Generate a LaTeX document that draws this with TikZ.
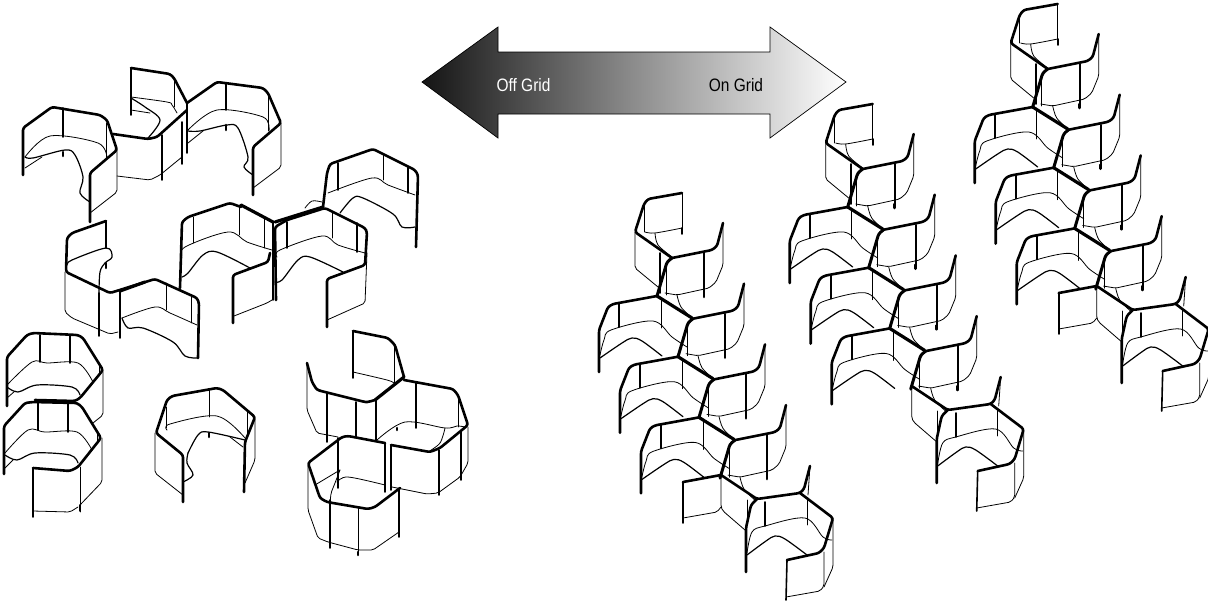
\documentclass[tikz,border=0pt]{standalone}
\usepackage{fontspec}
\setmainfont{Liberation Sans}
\tikzset{
  base/.style={line join=round,line cap=round,black},
  wallA/.style={base,line width=2.6pt,rounded corners=2.5pt},
  wallB/.style={base,line width=1.6pt},
  wallC/.style={base,line width=0.8pt,rounded corners=2pt},
  wallD/.style={base,line width=3.2pt},
  curveA/.style={base,line width=0.8pt},
  curveB/.style={base,line width=1.2pt},
  lab/.style={inner sep=0pt,font=\fontsize{18}{18}\selectfont}
}
\newcommand\cvA[1]{\draw[curveA] plot[smooth,tension=.55] coordinates {#1};}
\newcommand\cvB[1]{\draw[curveB] plot[smooth,tension=.55] coordinates {#1};}
\newcommand\chainunit[3]{%
\begin{scope}[shift={(#1,#2)}]
  % top module
  \draw[wallA] (682,193)--(648,199)--(644,204)--(635,232)--(672,258);
  \draw[wallC] (682,193)--(682,232);
  \draw[wallB] (682,228)--(682,234);
  \draw[wallC] (644,205)--(644,232);
  \cvA{(645,232)(655,233)(682,228)}
  \cvA{(655,233)(658,245)(672,257)}
  \draw[wallC] (635,232)--(635,268)--(658,287);
  \draw[wallB] (660,253)--(660,293);
  % arms and connectors
  \foreach \k in {0,1,2,3}{
    \begin{scope}[shift={({\k*21},{\k*60.7})}]
      \draw[wallA] (672,258)--(712,250)--(717,246)--(723,223);
      \draw[wallA,line width=3pt] (672,258)--(667,262)--(657,296);
      \draw[wallC] (666,267)--(666,295);
      \draw[wallC] (723,223)--(723,265)--(716,282)--(709,288)--(677,295)--(665,293);
      \draw[wallB] (704,253)--(704,293);
      \draw[wallA] (704,293)--(704,297);
      \cvA{(677,295)(681,307)(692,318)}
    \end{scope}
  }
  % rear units
  \foreach \k in {0,1,2}{
    \begin{scope}[shift={({\k*21},{\k*60.7})}]
      \draw[wallA] (599,372)--(599,330)--(608,307)--(613,304)--(657,296);
      \draw[wallD] (657,296)--(692,318);
      \draw[wallB] (619,303)--(619,327);
      \draw[wallC] (661,298)--(661,328);
      \cvA{(600,355)(604,340)(611,330)(653,321)(672,337)(687,347)}
      \cvB{(600,358)(622,343)(632,338)(642,341)(662,356)}
    \end{scope}
  }
  % last module
  \draw[wallC] (721,475)--(721,507)--(723,511)--(745,530);
  \ifnum#3=1
    \draw[wallA,rounded corners=0pt] (721,475)--(683,482);
    \draw[wallB] (683,482)--(683,523);
    \draw[wallC] (683,518)--(717,512)--(721,507);
  \fi
  \draw[wallA] (721,475)--(757,499)--(800,493)--(804,489)--(810,466);
  \draw[wallC] (810,466)--(808,495);
  \draw[wallA] (800,493)--(833,518)--(824,548)--(819,553)--(787,560);
  \draw[wallB] (787,560)--(786,600);
  \draw[wallC] (786,597)--(820,591)--(824,586)--(824,552);
  \draw[wallC] (833,518)--(833,567)--(824,587);
  \draw[wallA] (757,499)--(751,505)--(746,528)--(746,572);
  \draw[wallB] (765,502)--(765,526);
  \draw[wallC] (807,498)--(807,525);
  \draw[wallC] (747,500)--(747,525);
  \cvA{(747,553)(752,532)(765,526)(805,518)(823,537)(832,540)}
  \cvB{(747,555)(766,541)(775,536)(785,539)(807,555)}
\end{scope}}
\begin{document}
\begin{tikzpicture}[x=1pt,y=-1pt]
\useasboundingbox (0,0) rectangle (1208,603);
% ---- double arrow
\path[draw=black,line width=.7pt,left color=black!92,right color=white,middle color=black!45]
  (422,82)--(498,27)--(498,52)--(770,52)--(770,27)--(846,82)--(770,138)--(770,114)--(498,114)--(498,138)--cycle;
\node[lab,text=white,anchor=center] (offgrid) at (523.5,85) {\scalebox{.86}[1]{Off Grid}};
\node[lab,text=black,anchor=center] (ongrid) at (736,85) {\scalebox{.86}[1]{On Grid}};
% ---- on grid chains
\chainunit{0}{0}{1}
\chainunit{190.7}{-89}{0}
\chainunit{375.7}{-189}{1}
% ---- cube A
\draw[wallA] (23,175)--(23,128)--(52,107)--(100,115)--(107,120)--(117,150)--(90,173)--(90,222);
\draw[wallB] (63,108)--(63,137);
\draw[wallA] (63,152)--(63,156);
\draw[wallC] (106,123)--(106,158);
\cvA{(25,157)(50,136)(98,143)(107,158)}
\cvB{(25,157)(33,158)(65,150)(75,155)(83,177)(80,193)(90,202)}
\draw[wallC] (25,168)--(42,157);
\draw[wallC] (117,150)--(117,192)--(90,213);
% ---- cube B
\draw[wallA] (113,134)--(148,139)--(157,137)--(187,110);
\draw[wallA] (131,68)--(170,74)--(174,78)--(187,103);
\draw[wallB] (131,68)--(131,115);
\draw[wallC] (174,80)--(174,107);
\cvA{(131,97)(167,102)(172,105)(177,113)}
\cvB{(131,98)(145,107)(160,120)(148,138)}
\draw[wallC] (131,110)--(150,113);
\draw[wallB] (162,135)--(162,180);
\draw[wallB] (182,122)--(182,164);
\draw[wallB] (187,103)--(187,153);
\draw[wallC] (117,176)--(150,180)--(160,175)--(182,157);
% ---- cube C
\draw[wallA] (187,103)--(217,82)--(263,88)--(268,93)--(281,123)--(253,147)--(253,195);
\draw[wallB] (226,83)--(226,110);
\draw[wallA] (226,125)--(226,130);
\draw[wallC] (268,95)--(268,131);
\cvA{(188,130)(217,110)(263,117)(269,131)}
\cvB{(188,131)(200,131)(227,125)(238,128)(248,157)(244,167)(253,175)}
\draw[wallC] (188,143)--(203,131);
\draw[wallC] (281,123)--(281,167)--(253,188);
% ---- cube D
\draw[wallA] (106,221)--(72,233)--(67,238)--(66,272)--(110,293)--(155,279)--(197,298)--(199,303)--(198,358);
\draw[wallD] (120,291)--(145,282);
\draw[wallB] (106,221)--(106,248);
\cvB{(67,265)(72,260)(106,248)(112,257)(105,263)(100,272)(99,293)}
\draw[wallA] (106,263)--(106,268);
\draw[wallB] (99,293)--(99,336);
\draw[wallB] (120,292)--(120,338);
\draw[wallC] (65,272)--(65,312)--(72,318)--(110,334)--(118,332);
\draw[wallC] (166,283)--(166,310);
\draw[wallC] (191,297)--(191,323);
\cvA{(122,318)(155,307)(170,313)(197,325)}
\cvB{(122,318)(128,328)(143,328)(173,342)(185,356)(198,358)}
% ---- cube E
\draw[wallA] (180,288)--(182,222)--(188,217)--(230,203)--(241,207);
\draw[wallD] (241,205)--(273,222);
\draw[wallC] (193,217)--(193,243);
\draw[wallC] (239,207)--(239,235);
\draw[wallC] (264,219)--(264,248);
\cvA{(182,258)(185,247)(228,232)(247,242)(272,250)}
\cvB{(182,277)(188,273)(203,255)(217,252)(250,268)}
\draw[wallA] (270,253)--(268,262)--(233,275)--(233,323);
\draw[wallC] (234,316)--(267,303)--(272,300);
\draw[wallB] (273,223)--(273,300);
% ---- cube F
\draw[wallA] (276,300)--(275,227)--(287,220)--(325,208)--(365,228)--(367,232)--(365,265)--(327,279)--(327,327);
\draw[wallB] (287,222)--(287,248);
\draw[wallC] (332,213)--(332,238);
\draw[wallB] (357,223)--(357,252);
\cvA{(277,257)(280,250)(322,236)(338,245)(365,253)}
\cvB{(275,282)(282,280)(298,260)(310,257)(343,272)}
\draw[wallC] (367,253)--(365,303)--(327,320);
% ---- cube G
\draw[wallD] (275,222)--(323,207);
\draw[wallA] (323,207)--(327,173)--(330,164)--(373,149)--(415,170)--(418,175)--(416,247);
\draw[wallB] (338,163)--(338,190);
\draw[wallC] (383,154)--(383,180);
\draw[wallB] (408,167)--(408,193);
\cvA{(328,193)(372,178)(388,185)(415,195)}
\cvB{(340,213)(353,198)(363,198)(393,214)(402,227)(415,227)}
\cvA{(305,208)(312,201)(322,202)}
% ---- cube H
\draw[wallA] (7,406)--(7,357)--(27,335)--(33,333)--(78,335)--(83,338)--(103,370)--(80,398)--(75,401)--(35,400);
\draw[wallB] (40,335)--(40,362);
\draw[wallB] (70,335)--(70,363);
\draw[wallC] (99,363)--(99,375);
\cvA{(7,385)(32,362)(47,363)(78,363)(93,382)}
\cvB{(7,387)(18,392)(37,385)(72,387)(80,395)}
\draw[wallC] (7,398)--(15,391);
\draw[wallC] (103,370)--(103,415)--(93,423);
% ---- cube I
\draw[wallA] (4,474)--(4,426)--(25,403)--(33,402)--(77,403)--(82,407)--(101,438)--(78,467)--(70,471)--(33,468);
\draw[wallB] (33,468)--(33,517);
\draw[wallB] (38,403)--(38,430);
\draw[wallB] (68,403)--(68,432);
\draw[wallC] (97,433)--(97,443);
\cvA{(5,453)(28,430)(45,432)(77,432)(92,450)}
\cvB{(5,455)(17,460)(35,453)(70,455)(78,463)}
\draw[wallC] (5,468)--(13,460);
\draw[wallC] (102,438)--(102,482)--(80,505);
\draw[wallC] (80,467)--(80,512);
\draw[wallB] (80,505)--(80,511);
\draw[wallC] (33,511)--(70,512)--(78,507);
% ---- cube J
\draw[wallA] (183,502)--(183,455)--(156,433)--(167,400)--(172,396)--(217,388)--(223,390)--(255,417)--(245,442)--(244,492);
\draw[wallC] (209,390)--(209,417);
\draw[wallA] (209,433)--(209,437);
\draw[wallC] (247,410)--(247,435);
\draw[wallC] (166,407)--(166,428);
\cvA{(167,430)(170,424)(217,416)(245,438)}
\cvB{(188,453)(198,435)(208,432)(245,440)}
\cvB{(188,453)(187,463)(193,475)(183,482)}
\draw[wallC] (230,437)--(243,447);
\draw[wallC] (155,433)--(155,473)--(183,495);
\draw[wallC] (255,417)--(255,460)--(245,483);
% ---- cluster K
\draw[wallA] (353,331)--(388,338)--(395,345)--(404,377);
\draw[wallD] (404,377)--(375,400);
\draw[wallA] (375,400)--(368,402)--(365,402)--(317,390)--(312,382)--(307,363);
\draw[wallB] (353,331)--(353,378);
\cvA{(353,372)(387,380)(394,383)}
\draw[wallC] (394,347)--(394,383);
\draw[wallC] (307,363)--(307,410)--(317,433)--(338,437);
\draw[wallB] (327,393)--(327,442);
\draw[wallC] (318,389)--(325,392);
\draw[wallB] (356,402)--(356,437);
\draw[wallB] (376,400)--(376,440);
% ---- cluster L
\draw[wallA] (404,380)--(453,389)--(458,395)--(468,425)--(440,448)--(430,452)--(391,445);
\draw[wallB] (391,445)--(391,490);
\draw[wallB] (416,382)--(416,428);
\draw[wallC] (458,395)--(458,427);
\cvA{(377,440)(405,422)(445,428)(457,426)(465,427)}
\cvA{(445,428)(440,443)(428,452)}
\draw[wallA] (397,428)--(397,430);
\draw[wallB] (439,450)--(439,495);
\draw[wallB] (461,432)--(461,480);
\draw[wallC] (468,427)--(468,463)--(460,477)--(438,493)--(427,494)--(392,487);
% ---- cluster M
\draw[wallA] (385,443)--(348,436)--(342,437)--(308,463)--(320,498)--(327,502)--(368,509)--(375,507)--(400,488);
\draw[wallB] (385,443)--(385,492);
\draw[wallB] (338,438)--(338,488);
\draw[wallC] (315,485)--(340,470);
\draw[wallC] (340,470)--(335,483)--(331,493)--(330,503);
\cvA{(337,482)(348,477)(385,485)}
\draw[wallB] (330,500)--(330,548);
\draw[wallC] (358,508)--(358,555);
\draw[wallA] (358,552)--(358,555);
\draw[wallB] (399,490)--(399,537);
\draw[wallC] (308,463)--(308,510)--(318,538)--(328,542)--(358,550)--(373,550)--(399,532);
\end{tikzpicture}
\end{document}
